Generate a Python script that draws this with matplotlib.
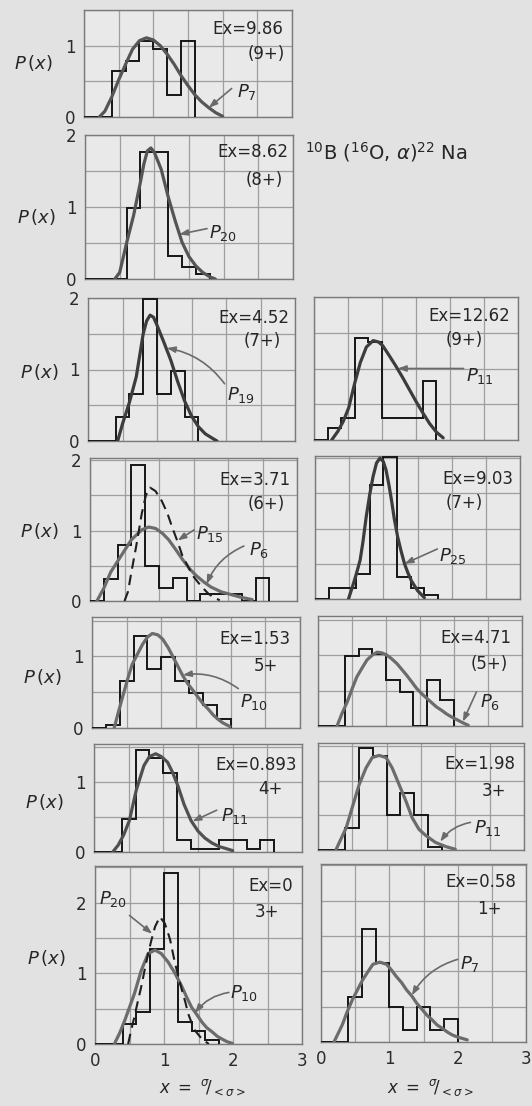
import matplotlib
matplotlib.use('Agg')
import matplotlib.pyplot as plt
import numpy as np

# histogram bin edges, x = sigma/<sigma>
edges = [0.0, 0.2, 0.4, 0.6, 0.8, 1.0, 1.2, 1.4, 1.6, 1.8, 2.0, 2.2, 2.4, 2.6]

# -------- Ex = 9.86 (9+)
h986 = [0, 0, 0.64, 0.79, 1.07, 0.96, 0.31, 1.07, 0, 0, 0, 0, 0]
p7a_x = [0.22, 0.3, 0.4, 0.5, 0.6, 0.7, 0.8, 0.9, 1.0, 1.1, 1.2, 1.3, 1.4, 1.5, 1.6, 1.7, 1.8, 1.9, 2.0]
p7a_y = [0, 0.08, 0.28, 0.52, 0.74, 0.95, 1.07, 1.11, 1.08, 1.0, 0.88, 0.74, 0.58, 0.44, 0.31, 0.21, 0.13, 0.06, 0.01]

# -------- Ex = 8.62 (8+)
h862 = [0, 0, 0, 0.98, 1.77, 1.77, 0.32, 0.16, 0.07, 0, 0, 0, 0]
p20a_x = [0.43, 0.5, 0.6, 0.7, 0.8, 0.85, 0.9, 0.95, 1.0, 1.1, 1.2, 1.3, 1.4, 1.5, 1.6, 1.7, 1.8, 1.88]
p20a_y = [0, 0.09, 0.5, 0.88, 1.35, 1.6, 1.78, 1.82, 1.76, 1.52, 1.14, 0.81, 0.51, 0.31, 0.18, 0.09, 0.03, 0]

# -------- Ex = 4.52 (7+)
h452 = [0, 0, 0.33, 0.66, 1.98, 0.66, 0.98, 0.34, 0, 0, 0, 0, 0]
p19_x = [0.43, 0.5, 0.6, 0.7, 0.75, 0.8, 0.85, 0.9, 0.95, 1.0, 1.05, 1.1, 1.2, 1.3, 1.4, 1.5, 1.6, 1.7, 1.8, 1.87]
p19_y = [0, 0.24, 0.54, 0.9, 1.2, 1.5, 1.68, 1.76, 1.73, 1.62, 1.5, 1.38, 1.13, 0.83, 0.56, 0.35, 0.2, 0.1, 0.04, 0]

# -------- Ex = 12.62 (9+)
h1262 = [0, 0.17, 0.31, 1.43, 1.37, 0.31, 0.31, 0.31, 0.82, 0, 0, 0, 0]
p11a_x = [0.26, 0.35, 0.43, 0.51, 0.6, 0.68, 0.77, 0.87, 0.95, 1.01, 1.1, 1.2, 1.3, 1.4, 1.5, 1.6, 1.7, 1.8, 1.9]
p11a_y = [0, 0.12, 0.26, 0.45, 0.8, 1.08, 1.3, 1.39, 1.37, 1.32, 1.19, 1.04, 0.88, 0.71, 0.54, 0.38, 0.23, 0.11, 0.03]

# -------- Ex = 3.71 (6+)
h371 = [0, 0.31, 0.79, 1.93, 0.5, 0.19, 0.33, 0, 0.1, 0.1, 0.1, 0, 0.33]
p15_x = [0.5, 0.55, 0.6, 0.67, 0.75, 0.81, 0.87, 0.95, 1.04, 1.12, 1.19, 1.27, 1.34, 1.42, 1.49, 1.57, 1.64, 1.72, 1.78, 1.88]
p15_y = [0, 0.13, 0.41, 0.78, 1.24, 1.5, 1.61, 1.56, 1.42, 1.25, 1.05, 0.84, 0.64, 0.49, 0.36, 0.26, 0.18, 0.1, 0.06, 0.01]
p6a_x = [0.1, 0.2, 0.3, 0.45, 0.6, 0.75, 0.85, 0.95, 1.05, 1.14, 1.25, 1.34, 1.45, 1.54, 1.65, 1.75, 1.9, 2.05, 2.2, 2.35]
p6a_y = [0, 0.18, 0.41, 0.64, 0.87, 1.01, 1.05, 1.03, 0.96, 0.87, 0.72, 0.59, 0.45, 0.36, 0.27, 0.2, 0.13, 0.09, 0.05, 0.02]

# -------- Ex = 9.03 (7+)
h903 = [0, 0.16, 0.16, 0.35, 1.62, 2.02, 0.31, 0.15, 0.06, 0, 0, 0, 0]
p25_x = [0.49, 0.55, 0.6, 0.66, 0.7, 0.75, 0.8, 0.85, 0.9, 0.95, 1.0, 1.04, 1.08, 1.12, 1.16, 1.21, 1.26, 1.31, 1.36, 1.41, 1.5, 1.6]
p25_y = [0, 0.18, 0.34, 0.55, 0.8, 1.17, 1.48, 1.74, 1.93, 2.0, 1.95, 1.83, 1.63, 1.4, 1.14, 0.88, 0.68, 0.5, 0.37, 0.26, 0.12, 0.02]

# -------- Ex = 1.53 (5+)
h153 = [0, 0.04, 0.66, 1.28, 0.82, 0.99, 0.66, 0.49, 0.32, 0.12, 0, 0, 0]
p10a_x = [0.32, 0.38, 0.44, 0.51, 0.58, 0.66, 0.73, 0.8, 0.87, 0.95, 1.02, 1.1, 1.17, 1.24, 1.31, 1.38, 1.46, 1.53, 1.6, 1.68, 1.75, 1.82, 1.89, 1.99]
p10a_y = [0, 0.22, 0.43, 0.67, 0.89, 1.04, 1.17, 1.27, 1.32, 1.3, 1.24, 1.12, 0.99, 0.86, 0.73, 0.62, 0.52, 0.43, 0.34, 0.26, 0.18, 0.12, 0.07, 0.02]

# -------- Ex = 4.71 (5+)
h471 = [0, 0, 0.98, 1.09, 1.02, 0.65, 0.48, 0, 0.65, 0.36, 0, 0, 0]
p6b_x = [0.28, 0.35, 0.43, 0.5, 0.57, 0.65, 0.72, 0.8, 0.87, 0.94, 1.01, 1.08, 1.16, 1.23, 1.3, 1.38, 1.45, 1.52, 1.6, 1.67, 1.74, 1.82, 1.89, 1.96, 2.04, 2.12, 2.21]
p6b_y = [0, 0.17, 0.34, 0.52, 0.69, 0.82, 0.93, 1.0, 1.04, 1.03, 1.0, 0.95, 0.88, 0.8, 0.72, 0.62, 0.53, 0.46, 0.39, 0.33, 0.27, 0.22, 0.17, 0.13, 0.09, 0.05, 0.01]

# -------- Ex = 0.893 (4+)
h0893 = [0, 0, 0.47, 1.46, 1.35, 1.14, 0.17, 0.04, 0.04, 0.17, 0.17, 0.04, 0.17]
p11b_x = [0.27, 0.35, 0.43, 0.51, 0.61, 0.72, 0.8, 0.89, 0.97, 1.06, 1.13, 1.21, 1.3, 1.4, 1.5, 1.6, 1.7, 1.8, 1.9, 2.0]
p11b_y = [0, 0.1, 0.25, 0.45, 0.89, 1.24, 1.37, 1.41, 1.37, 1.29, 1.15, 0.95, 0.68, 0.45, 0.3, 0.2, 0.13, 0.08, 0.05, 0.02]

# -------- Ex = 1.98 (3+)
h198 = [0, 0, 0.32, 1.48, 1.36, 0.5, 0.82, 0.5, 0.04, 0, 0, 0, 0]
p11c_x = [0.26, 0.33, 0.41, 0.5, 0.6, 0.7, 0.79, 0.89, 0.99, 1.08, 1.18, 1.28, 1.37, 1.47, 1.57, 1.71, 1.86, 2.0]
p11c_y = [0, 0.15, 0.32, 0.62, 0.95, 1.19, 1.34, 1.37, 1.34, 1.19, 0.95, 0.71, 0.47, 0.3, 0.21, 0.11, 0.05, 0.01]

# -------- Ex = 0 (3+)
h000 = [0, 0, 0.29, 0.45, 1.35, 2.42, 0.31, 0.19, 0.05, 0, 0, 0, 0]
p10b_x = [0.28, 0.36, 0.43, 0.5, 0.57, 0.67, 0.77, 0.87, 0.96, 1.06, 1.16, 1.26, 1.33, 1.4, 1.48, 1.55, 1.62, 1.7, 1.77, 1.84, 1.92, 1.99]
p10b_y = [0, 0.16, 0.33, 0.52, 0.71, 1.04, 1.28, 1.33, 1.28, 1.16, 1.0, 0.81, 0.66, 0.52, 0.41, 0.31, 0.23, 0.17, 0.11, 0.07, 0.03, 0.01]
p20b_x = [0.48, 0.52, 0.57, 0.62, 0.67, 0.72, 0.77, 0.82, 0.87, 0.94, 1.01, 1.05, 1.09, 1.16, 1.21, 1.26, 1.31, 1.35, 1.4, 1.45, 1.55, 1.65]
p20b_y = [0, 0.18, 0.38, 0.6, 0.81, 1.05, 1.28, 1.48, 1.66, 1.8, 1.71, 1.6, 1.47, 1.14, 0.95, 0.76, 0.59, 0.43, 0.3, 0.19, 0.07, 0.0]

# -------- Ex = 0.58 (1+)
h058 = [0, 0, 0.64, 1.6, 1.12, 0.5, 0.17, 0.5, 0.17, 0.32, 0, 0, 0]
p7b_x = [0.19, 0.25, 0.31, 0.38, 0.46, 0.54, 0.61, 0.69, 0.76, 0.86, 0.96, 1.03, 1.1, 1.18, 1.25, 1.33, 1.4, 1.48, 1.55, 1.63, 1.7, 1.78, 1.85, 1.92, 2.0, 2.07, 2.14]
p7b_y = [0, 0.12, 0.24, 0.42, 0.6, 0.75, 0.88, 1.0, 1.1, 1.13, 1.1, 1.02, 0.93, 0.84, 0.74, 0.65, 0.55, 0.46, 0.38, 0.31, 0.24, 0.19, 0.14, 0.1, 0.07, 0.05, 0.03]

GRAY = '#6c6c6c'
DARK = '#3c3c3c'
DASH = 'dash'

# box = (left, top, right, bottom) in pixels; label = (sub, x, y, x_from, y_from, x_tip, y_tip, rad)
panels = [
    dict(box=(84, 10, 292, 117), ymax=1.5, yl=[0, 1], hist=h986,
         curves=[(p7a_x, p7a_y, '#555555')],
         ex=('Ex=9.86', 2.88, 1.24), jp=('(9+)', 2.9, 0.89),
         labels=[('7', 2.21, 0.35, 2.13, 0.40, 1.80, 0.13, 0.0)], px=(33, 63)),
    dict(box=(85, 135, 293, 279), ymax=2.0, yl=[0, 1, 2], hist=h862,
         curves=[(p20a_x, p20a_y, '#555555')],
         ex=('Ex=8.62', 2.93, 1.76), jp=('(8+)', 2.86, 1.37),
         labels=[('20', 1.79, 0.64, 1.76, 0.70, 1.36, 0.62, 0.0)], px=(36, 217)),
    dict(box=(88, 298, 295, 441), ymax=2.0, yl=[0, 1, 2], hist=h452,
         curves=[(p19_x, p19_y, DARK)],
         ex=('Ex=4.52', 2.92, 1.72), jp=('(7+)', 2.79, 1.40),
         labels=[('19', 2.01, 0.65, 1.98, 0.80, 1.14, 1.30, 0.2)], px=(39, 372)),
    dict(box=(314, 297, 518, 440), ymax=2.0, yl=[], hist=h1262,
         curves=[(p11a_x, p11a_y, DARK)],
         ex=('Ex=12.62', 2.88, 1.74), jp=('(9+)', 2.49, 1.40),
         labels=[('11', 2.23, 0.89, 2.2, 1.0, 1.23, 1.0, 0.0)], px=None),
    dict(box=(90, 458, 297, 601), ymax=2.03, yl=[0, 1, 2], hist=h371,
         curves=[(p6a_x, p6a_y, GRAY), (p15_x, p15_y, DASH)],
         ex=('Ex=3.71', 2.9, 1.72), jp=('(6+)', 2.82, 1.38),
         labels=[('15', 1.54, 0.95, 1.51, 1.01, 1.27, 0.86, 0.0),
                 ('6', 2.3, 0.72, 2.23, 0.78, 1.69, 0.24, 0.2)], px=(39, 531)),
    dict(box=(315, 456, 520, 599), ymax=2.03, yl=[], hist=h903,
         curves=[(p25_x, p25_y, DARK)],
         ex=('Ex=9.03', 2.91, 1.70), jp=('(7+)', 2.45, 1.36),
         labels=[('25', 1.82, 0.61, 1.79, 0.71, 1.31, 0.5, 0.0)], px=None),
    dict(box=(92, 617, 300, 728), ymax=1.55, yl=[0, 1], hist=h153,
         curves=[(p10a_x, p10a_y, GRAY)],
         ex=('Ex=1.53', 2.86, 1.24), jp=('5+', 2.69, 0.87),
         labels=[('10', 2.14, 0.37, 2.11, 0.55, 1.31, 0.74, 0.2)], px=(42, 677)),
    dict(box=(318, 616, 522, 726), ymax=1.55, yl=[], hist=h471,
         curves=[(p6b_x, p6b_y, GRAY)],
         ex=('Ex=4.71', 2.84, 1.24), jp=('(5+)', 2.79, 0.88),
         labels=[('6', 2.38, 0.34, 2.33, 0.48, 2.13, 0.06, 0.0)], px=None),
    dict(box=(94, 744, 302, 852), ymax=1.55, yl=[0, 1], hist=h0893,
         curves=[(p11b_x, p11b_y, '#505050')],
         ex=('Ex=0.893', 2.92, 1.25), jp=('4+', 2.72, 0.91),
         labels=[('11', 1.83, 0.51, 1.77, 0.6, 1.42, 0.44, 0.0)], px=(44, 802)),
    dict(box=(318, 743, 524, 850), ymax=1.55, yl=[], hist=h198,
         curves=[(p11c_x, p11c_y, GRAY)],
         ex=('Ex=1.98', 2.88, 1.24), jp=('3+', 2.74, 0.86),
         labels=[('11', 2.27, 0.32, 2.22, 0.40, 1.78, 0.12, 0.2)], px=None),
    dict(box=(95, 866, 302, 1044), ymax=2.52, yl=[0, 1, 2], hist=h000,
         curves=[(p10b_x, p10b_y, GRAY), (p20b_x, p20b_y, DASH)],
         ex=('Ex=0', 2.87, 2.23), jp=('3+', 2.67, 1.87),
         labels=[('20', 0.06, 2.05, 0.5, 1.82, 0.83, 1.56, 0.0),
                 ('10', 1.96, 0.72, 1.94, 0.73, 1.45, 0.44, 0.2)], px=(46, 958)),
    dict(box=(321, 864, 526, 1042), ymax=2.52, yl=[], hist=h058,
         curves=[(p7b_x, p7b_y, GRAY)],
         ex=('Ex=0.58', 2.86, 2.26), jp=('1+', 2.64, 1.88),
         labels=[('7', 2.04, 1.11, 2.0, 1.17, 1.33, 0.66, 0.2)], px=None),
]

W, H = 532, 1106
fig = plt.figure(figsize=(W / 100, H / 100), dpi=100, facecolor='#e2e2e2')
plt.rcParams['mathtext.fontset'] = 'dejavusans'

for i, p in enumerate(panels):
    l, t, r, b = p['box']
    ax = fig.add_axes([l / W, 1 - b / H, (r - l) / W, (b - t) / H])
    ax.set_facecolor('#e9e9e9')
    ax.set_xlim(0, 3)
    ax.set_ylim(0, p['ymax'])
    bottom = i >= len(panels) - 2
    xt = np.arange(0, 3.01, 0.5)
    ax.set_xticks(xt)
    ax.set_xticklabels([('%d' % v if (bottom and v == int(v)) else '') for v in xt])
    yt = np.arange(0, p['ymax'] + 0.01, 0.5)
    ax.set_yticks(yt)
    ax.set_yticklabels([('%d' % v if v in p['yl'] else '') for v in yt])
    ax.tick_params(length=0, pad=6, labelsize=12, labelcolor='#2a2a2a')
    ax.grid(True, color='#9e9e9e', lw=0.9)
    ax.set_axisbelow(True)
    for s in ax.spines.values():
        s.set_color('#7a7a7a')
        s.set_linewidth(1.0)

    # histogram outline, stopping after the last occupied bin
    hv = p['hist']
    last = max(k for k, v in enumerate(hv) if v > 0) + 1
    ax.stairs(hv[:last], edges[:last + 1], baseline=0, color='#161616', lw=1.4, zorder=3)
    for cx, cy, col in p['curves']:
        if col == DASH:
            ax.plot(cx, cy, color='#1e1e1e', lw=1.5, ls=(0, (5, 3)), zorder=4)
        else:
            ax.plot(cx, cy, color=col, lw=2.3, zorder=4, solid_capstyle='round')

    txt, x, y = p['ex']
    ax.text(x, y, txt, ha='right', va='center', fontsize=12, color='#262626')
    txt, x, y = p['jp']
    ax.text(x, y, txt, ha='right', va='center', fontsize=12, color='#262626')
    for sub, x, y, xf, yf, xt_, yt_, rad in p['labels']:
        ax.text(x, y, r'$P_{%s}$' % sub, ha='left', va='center', fontsize=13, color='#262626')
        ax.annotate('', xy=(xt_, yt_), xytext=(xf, yf),
                    arrowprops=dict(arrowstyle='-|>,head_length=0.5,head_width=0.18',
                                    color='#6a6a6a', lw=1.2, shrinkA=0, shrinkB=0,
                                    connectionstyle='arc3,rad=%.2f' % rad), zorder=5)
    if p['px'] is not None:
        fig.text(p['px'][0] / W, 1 - p['px'][1] / H, r'$P\,(x)$', ha='center', va='center',
                 fontsize=13, color='#262626')

fig.text(305 / W, 1 - 152 / H, r'$^{10}$B ($^{16}$O, $\alpha$)$^{22}$ Na', ha='left', va='center',
         fontsize=14, color='#262626')
fig.text(203 / W, 1 - 1088 / H, r'$x\ =\ {}^{\sigma}\!/_{<\sigma>}$', ha='center', va='center',
         fontsize=12, color='#262626')
fig.text(431 / W, 1 - 1088 / H, r'$x\ =\ {}^{\sigma}\!/_{<\sigma>}$', ha='center', va='center',
         fontsize=12, color='#262626')

fig.savefig('out.png', dpi=100, facecolor=fig.get_facecolor())
